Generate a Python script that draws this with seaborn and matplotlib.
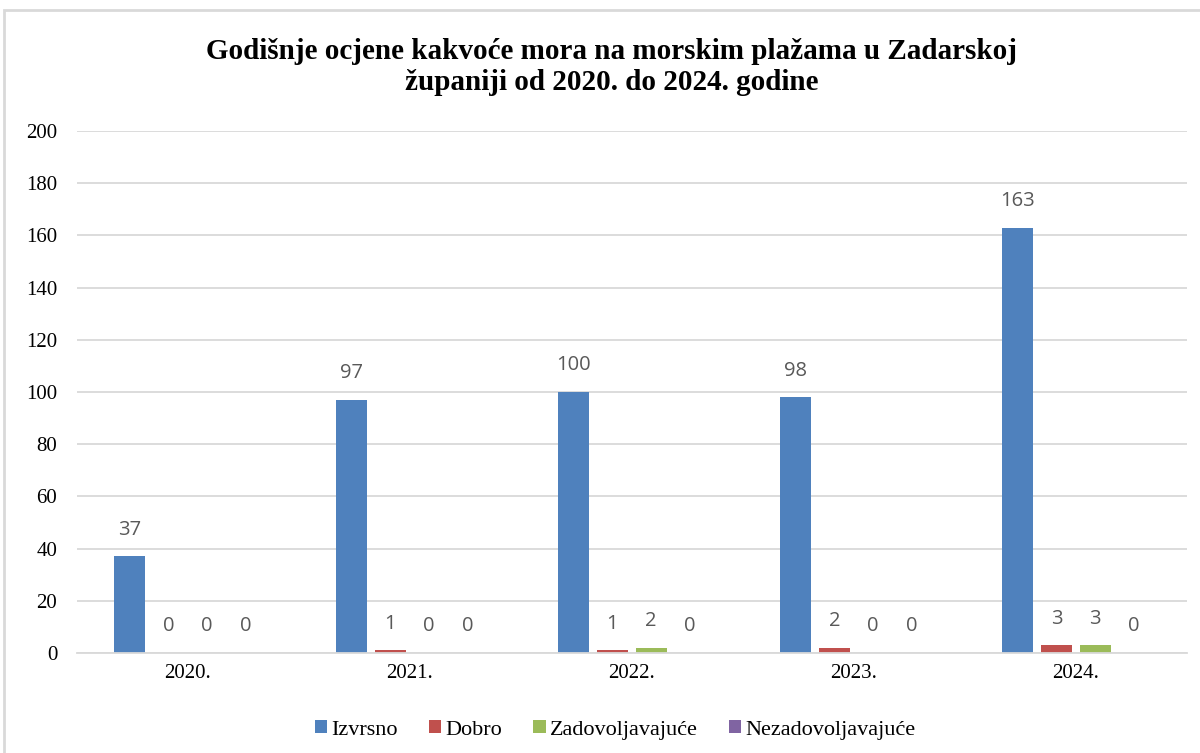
import pandas as pd
import matplotlib.pyplot as plt
import seaborn as sns
from matplotlib.patches import Rectangle

years = ["2020.", "2021.", "2022.", "2023.", "2024."]
izvrsno = [37, 97, 100, 98, 163]
dobro = [0, 1, 1, 2, 3]
zadovoljavajuce = [0, 0, 2, 0, 3]
nezadovoljavajuce = [0, 0, 0, 0, 0]

series = {
    "Izvrsno": izvrsno,
    "Dobro": dobro,
    "Zadovoljavajuće": zadovoljavajuce,
    "Nezadovoljavajuće": nezadovoljavajuce,
}
colors = ["#4F81BD", "#C0504D", "#9BBB59", "#8064A2"]

rows = []
for name, vals in series.items():
    for y, v in zip(years, vals):
        rows.append({"Godina": y, "Ocjena": name, "Broj": v})
df = pd.DataFrame(rows)

sns.set_style("white")
plt.rcParams["font.family"] = ["Liberation Serif", "DejaVu Serif"]
plt.rcParams["text.color"] = "black"

fig = plt.figure(figsize=(12, 7.53), dpi=100)
ax = fig.add_axes([0.064, 0.1328, 0.925, 0.6932])

sns.barplot(data=df, x="Godina", y="Broj", hue="Ocjena", palette=colors,
            width=0.7, gap=0.2, ax=ax, errorbar=None, saturation=1,
            linewidth=0)

# value labels above each bar
for c in ax.containers:
    ax.bar_label(c, padding=12, fontsize=14.5, color="#595959",
                 family=["Open Sans", "DejaVu Sans"])

ax.set_xlim(-0.5, 4.5)
ax.set_ylim(0, 200)
ax.set_yticks(range(0, 201, 20))
ax.yaxis.grid(True, color="#D9D9D9", linewidth=1.3)
ax.set_axisbelow(True)
for s in ["top", "right", "left"]:
    ax.spines[s].set_visible(False)
ax.spines["bottom"].set_color("#D9D9D9")
ax.spines["bottom"].set_linewidth(1.3)
ax.tick_params(axis="both", length=0, labelsize=15, colors="black")
ax.tick_params(axis="x", pad=8)
ax.tick_params(axis="y", pad=14)
ax.set_xlabel("")
ax.set_ylabel("")

ax.legend(loc="upper center", bbox_to_anchor=(0.485, -0.09), ncol=4,
          frameon=False, fontsize=16, handlelength=0.55, handleheight=0.55,
          handletextpad=0.2, columnspacing=1.4)

fig.text(0.51, 0.911, "Godišnje ocjene kakvoće mora na morskim plažama u Zadarskoj\nžupaniji od 2020. do 2024. godine",
         ha="center", va="center", fontsize=21, fontweight="bold",
         linespacing=1.2, color="black")

# light frame around the chart
fig.patches.append(Rectangle((4 / 1200, -0.1), 1.2, 1 - 10 / 753 + 0.1,
                             transform=fig.transFigure, fill=False,
                             edgecolor="#D9D9D9", linewidth=2))

fig.savefig("out.png", dpi=100)
